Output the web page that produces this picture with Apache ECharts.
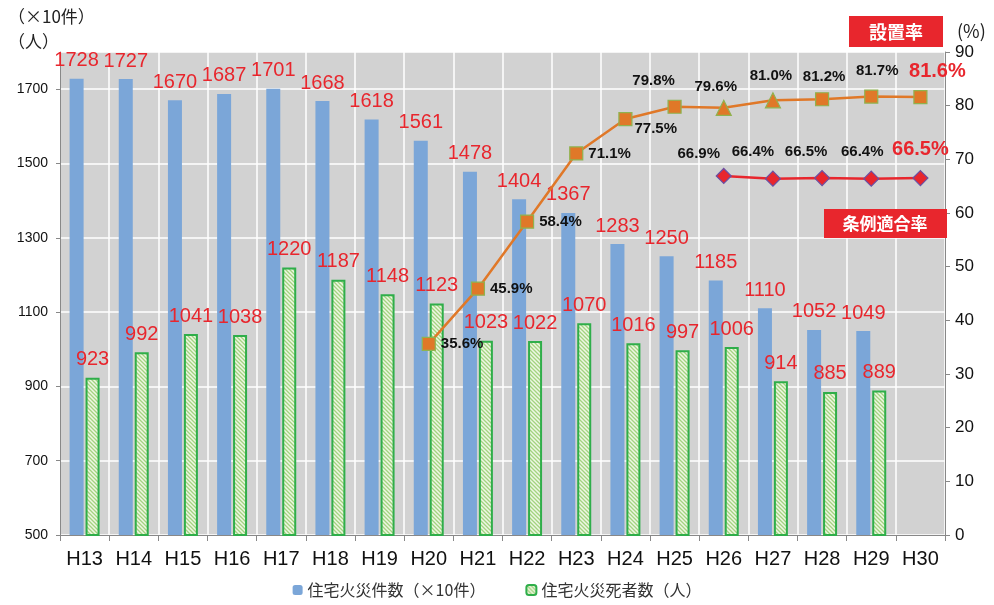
<!DOCTYPE html>
<html>
<head>
<meta charset="utf-8">
<script src="https://cdn.jsdelivr.net/npm/echarts@6/dist/echarts.min.js"></script>
<style>
  html, body { margin: 0; padding: 0; background: #fff; }
  #chart { width: 994px; height: 605px; }
</style>
</head>
<body>
<div id="chart"></div>
<script>
// data
const categories = ['H13','H14','H15','H16','H17','H18','H19','H20','H21','H22','H23','H24','H25','H26','H27','H28','H29','H30'];
const fireCounts = [1728,1727,1670,1687,1701,1668,1618,1561,1478,1404,1367,1283,1250,1185,1110,1052,1049,null];
const fireDeaths = [923,992,1041,1038,1220,1187,1148,1123,1023,1022,1070,1016,997,1006,914,885,889,null];
const installRate = [null,null,null,null,null,null,null,35.6,45.9,58.4,71.1,77.5,79.8,79.6,81.0,81.2,81.7,81.6];
const complianceRate = [null,null,null,null,null,null,null,null,null,null,null,null,null,66.9,66.4,66.5,66.4,66.5];
const leftAxis = { min: 500, max: 1800, interval: 200 };
const rightAxis = { min: 0, max: 90, interval: 10 };

const RED = '#e8262d';
const NUM_FONT = "'Liberation Sans', Arial, sans-serif";
const JP_FONT = "'Noto Sans CJK JP', sans-serif";

// label placement tweaks per point (index -> label options)
const installLabelPos = {
  7: { position: 'right', distance: 5 },
  8: { position: 'right', distance: 5 },
  9: { position: 'right', distance: 5 },
  10: { position: 'right', distance: 5 },
  11: { position: 'right', distance: 2, offset: [0, 10] },
  12: { position: 'top', offset: [-21, -6] },
  13: { position: 'top', offset: [-8, 0] },
  14: { position: 'top', offset: [-2, -4] },
  15: { position: 'top', offset: [2, -3] },
  16: { position: 'top', offset: [6, -6] },
  17: { position: 'top', offset: [17, -3] }
};
const complianceLabelPos = {
  13: { offset: [-25, -2] },
  14: { offset: [-20, -6] },
  15: { offset: [-16, -6] },
  16: { offset: [-9, -6] },
  17: { offset: [0, -6] }
};
const lastIdx = categories.length - 1;

function hatch() {
  const c = document.createElement('canvas');
  c.width = 4; c.height = 4;
  const g = c.getContext('2d');
  g.fillStyle = '#eef7e4';
  g.fillRect(0, 0, 4, 4);
  g.strokeStyle = '#a3d37f';
  g.lineWidth = 1.3;
  g.beginPath();
  g.moveTo(0, 0); g.lineTo(4, 4);
  g.moveTo(-1, 3); g.lineTo(1, 5);
  g.moveTo(3, -1); g.lineTo(5, 1);
  g.stroke();
  return c;
}

function lineLabel(i, tweak) {
  const big = i === lastIdx;
  return Object.assign({
    show: true,
    position: 'top',
    formatter: p => p.value.toFixed(1) + '%',
    color: big ? RED : '#111',
    fontSize: big ? 20 : 15,
    fontWeight: 'bold',
    fontFamily: NUM_FONT
  }, tweak || {});
}

const installData = installRate.map((v, i) => ({
  value: v,
  label: lineLabel(i, installLabelPos[i])
}));
const complianceData = complianceRate.map((v, i) => ({
  value: v,
  label: lineLabel(i, complianceLabelPos[i])
}));

const chart = echarts.init(document.getElementById('chart'));
const option = {
  animation: false,
  textStyle: { fontFamily: NUM_FONT },
  grid: {
    left: 60, right: 49, top: 52, bottom: 70,
    show: true, backgroundColor: '#d2d2d2', borderWidth: 0
  },
  legend: {
    bottom: 2,
    left: 'center',
    data: ['住宅火災件数（×10件）', '住宅火災死者数（人）'],
    itemWidth: 10, itemHeight: 10, itemGap: 40,
    textStyle: { fontSize: 16, color: '#333', fontFamily: JP_FONT }
  },
  xAxis: {
    type: 'category',
    data: categories,
    axisLine: { lineStyle: { color: '#888' } },
    axisTick: { show: true, length: 6, lineStyle: { color: '#888' } },
    splitLine: { show: true, lineStyle: { color: '#fff', width: 1.5 } },
    axisLabel: { color: '#111', fontSize: 20, margin: 14, fontFamily: NUM_FONT }
  },
  yAxis: [
    {
      type: 'value',
      min: leftAxis.min, max: leftAxis.max, interval: leftAxis.interval,
      axisLine: { show: true, lineStyle: { color: '#888' } },
      axisTick: { show: true, length: 4, lineStyle: { color: '#888' } },
      splitLine: { show: true, lineStyle: { color: '#fff', width: 1.5 } },
      axisLabel: { color: '#111', fontSize: 14, margin: 12, showMaxLabel: false, formatter: v => String(v) }
    },
    {
      type: 'value',
      min: rightAxis.min, max: rightAxis.max, interval: rightAxis.interval,
      axisLine: { show: true, lineStyle: { color: '#888' } },
      axisTick: { show: true, length: 5, lineStyle: { color: '#888' } },
      splitLine: { show: false },
      axisLabel: { color: '#111', fontSize: 17, margin: 10 }
    }
  ],
  series: [
    {
      name: '住宅火災件数（×10件）',
      type: 'bar',
      data: fireCounts,
      barWidth: 14,
      barGap: '14%',
      itemStyle: { color: '#7ba6d8' },
      label: {
        show: true, position: 'top', distance: 8,
        color: RED, fontSize: 20, fontFamily: NUM_FONT
      }
    },
    {
      name: '住宅火災死者数（人）',
      type: 'bar',
      data: fireDeaths,
      barWidth: 14,
      itemStyle: {
        color: { image: hatch(), repeat: 'repeat' },
        borderColor: '#2fae4a',
        borderWidth: 2
      },
      label: {
        show: true, position: 'top', distance: 8,
        color: RED, fontSize: 20, fontFamily: NUM_FONT
      }
    },
    {
      name: '設置率',
      type: 'line',
      yAxisIndex: 1,
      data: installData,
      z: 5,
      symbol: (v, p) => (p.dataIndex === 13 || p.dataIndex === 14) ? 'triangle' : 'rect',
      symbolSize: (v, p) => (p.dataIndex === 13 || p.dataIndex === 14) ? 15 : 13,
      lineStyle: { color: '#e07828', width: 2.5 },
      itemStyle: { color: '#e07828', borderColor: '#8fb34f', borderWidth: 1.2 }
    },
    {
      name: '条例適合率',
      type: 'line',
      yAxisIndex: 1,
      data: complianceData,
      z: 5,
      symbol: 'diamond',
      symbolSize: 15,
      lineStyle: { color: RED, width: 2.5 },
      itemStyle: { color: RED, borderColor: '#6b4fa3', borderWidth: 1.2 }
    }
  ],
  graphic: [
    { type: 'text', left: 8, top: 8, style: { text: '（×10件）', font: '17px ' + JP_FONT, fill: '#222' } },
    { type: 'text', left: 8, top: 33, style: { text: '（人）', font: '17px ' + JP_FONT, fill: '#222' } },
    { type: 'text', left: 957, top: 22, style: { text: '(%)', font: '18px ' + JP_FONT, fill: '#222' } },
    { type: 'rect', shape: { x: 849, y: 16, width: 94, height: 31 }, style: { fill: RED }, z: 10 },
    { type: 'text', x: 896, y: 32, z: 11,
      style: { text: '設置率', fill: '#fff', font: 'bold 18px ' + JP_FONT, align: 'center', verticalAlign: 'middle' } },
    { type: 'rect', shape: { x: 824, y: 209, width: 123, height: 29 }, style: { fill: RED }, z: 10 },
    { type: 'text', x: 885, y: 224, z: 11,
      style: { text: '条例適合率', fill: '#fff', font: 'bold 17px ' + JP_FONT, align: 'center', verticalAlign: 'middle' } }
  ]
};
chart.setOption(option);
</script>
</body>
</html>
